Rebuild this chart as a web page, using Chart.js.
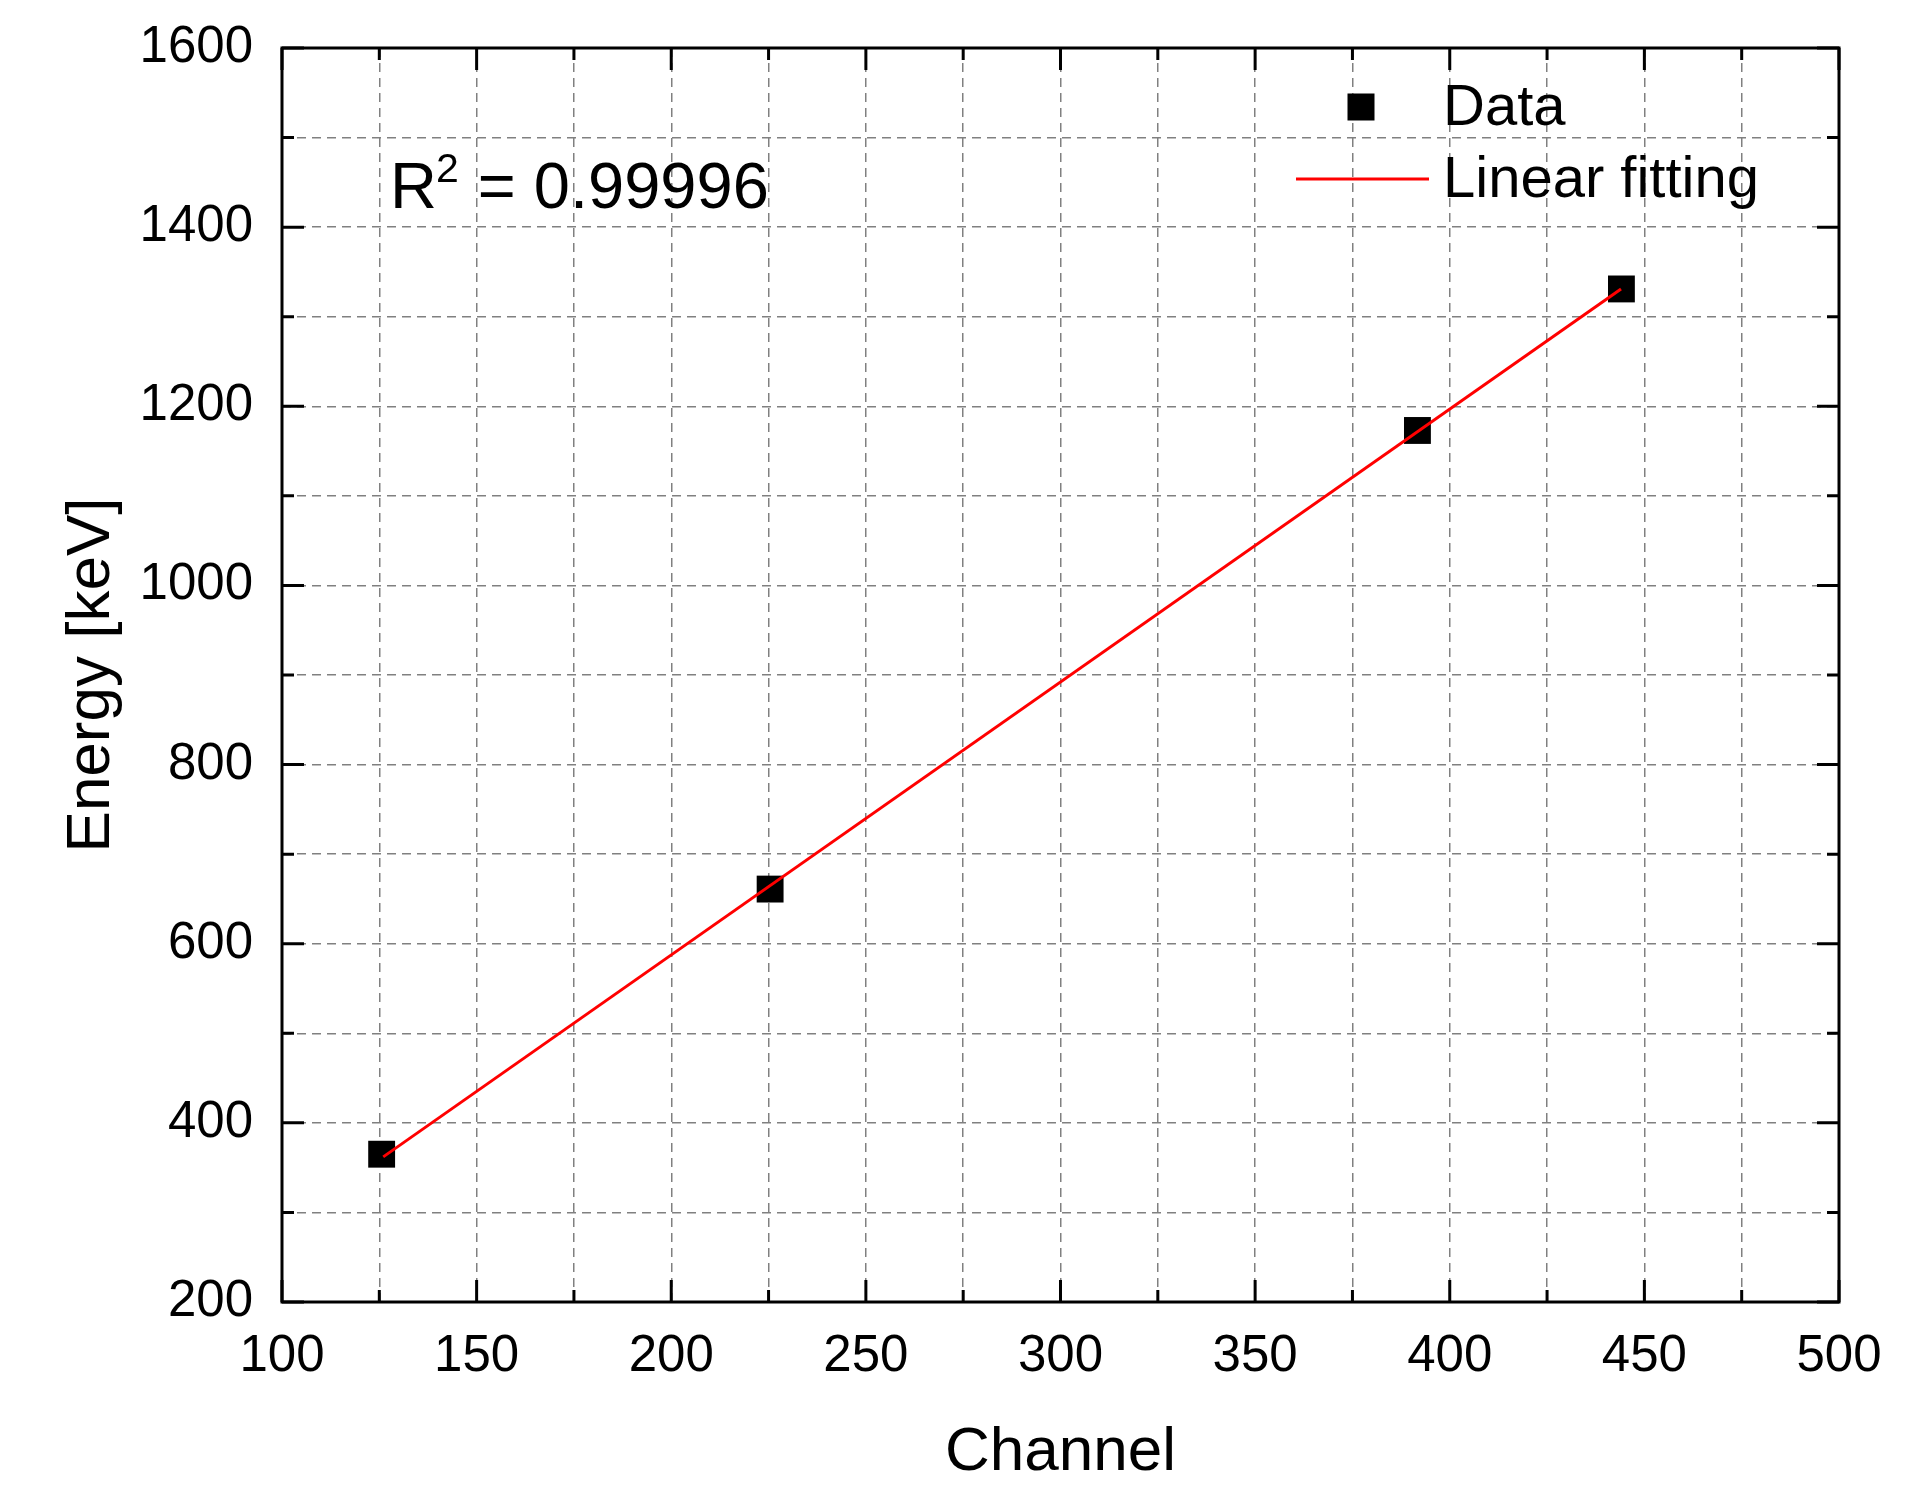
<!DOCTYPE html>
<html>
<head>
<meta charset="utf-8">
<script src="https://cdn.jsdelivr.net/npm/chart.js@4.4.1/dist/chart.umd.min.js"></script>
<style>
  html, body { margin: 0; padding: 0; background: #fff; }
  #calib { display: block; }
</style>
</head>
<body>
<canvas id="calib" width="1914" height="1485"></canvas>
<script>
// measured points (channel vs energy)
const channel = [125.6, 225.4, 391.7, 444.1];
const energy = [365, 661, 1173, 1331];

// fitted line end points
const fitChannel = [126, 444];
const fitEnergy = [362, 1331];

const xMin = 100, xMax = 500, xStep = 25, xLabelEvery = 50;
const yMin = 200, yMax = 1600, yStep = 100, yLabelEvery = 200;

const rSquared = '0.99996';

const FONT = '"Liberation Sans", Arial, sans-serif';

const dataPoints = channel.map((c, i) => ({ x: c, y: energy[i] }));
const fitPoints = fitChannel.map((c, i) => ({ x: c, y: fitEnergy[i] }));

function noPad(scale) {
  scale.paddingTop = 0;
  scale.paddingBottom = 0;
  scale.paddingLeft = 0;
  scale.paddingRight = 0;
}

// frame + inward ticks on all four sides
const frameTicks = {
  id: 'frameTicks',
  afterDraw(chart) {
    const c = chart.ctx;
    const a = chart.chartArea;
    const xs = chart.scales.x, ys = chart.scales.y;
    c.save();
    c.strokeStyle = '#000';
    c.lineWidth = 3;
    c.strokeRect(a.left, a.top, a.right - a.left, a.bottom - a.top);
    xs.ticks.forEach(t => {
      const px = xs.getPixelForValue(t.value);
      const len = t.value % xLabelEvery === 0 ? 22 : 12;
      c.beginPath();
      c.moveTo(px, a.bottom); c.lineTo(px, a.bottom - len);
      c.moveTo(px, a.top); c.lineTo(px, a.top + len);
      c.stroke();
    });
    ys.ticks.forEach(t => {
      const py = ys.getPixelForValue(t.value);
      const len = t.value % yLabelEvery === 0 ? 22 : 12;
      c.beginPath();
      c.moveTo(a.left, py); c.lineTo(a.left + len, py);
      c.moveTo(a.right, py); c.lineTo(a.right - len, py);
      c.stroke();
    });
    c.restore();
  }
};

// legend in the upper right + R^2 text
const notes = {
  id: 'notes',
  afterDraw(chart) {
    const c = chart.ctx;
    const ds = chart.data.datasets;
    c.save();
    c.fillStyle = '#000';
    c.textBaseline = 'middle';
    c.font = '58px ' + FONT;

    // Data
    c.fillStyle = ds[0].backgroundColor;
    c.fillRect(1361 - 13.5, 107 - 13.5, 27, 27);
    c.fillStyle = '#000';
    c.fillText(ds[0].label, 1443, 109);

    // Linear fitting
    c.strokeStyle = ds[1].borderColor;
    c.lineWidth = ds[1].borderWidth;
    c.beginPath();
    c.moveTo(1296, 179); c.lineTo(1429, 179);
    c.stroke();
    c.fillText(ds[1].label, 1443, 181);

    // R^2
    c.textBaseline = 'alphabetic';
    c.font = '65px ' + FONT;
    c.fillText('R', 390, 208);
    const rw = c.measureText('R').width;
    c.font = '41px ' + FONT;
    c.fillText('2', 390 + rw - 1, 182);
    const sw = c.measureText('2').width;
    c.font = '65px ' + FONT;
    c.fillText(' = ' + rSquared, 390 + rw + sw, 208);
    c.restore();
  }
};

new Chart(document.getElementById('calib'), {
  type: 'scatter',
  data: {
    datasets: [
      {
        label: 'Data',
        data: dataPoints,
        pointStyle: 'rect',
        pointRadius: 19,
        pointHoverRadius: 19,
        backgroundColor: '#000',
        borderColor: '#000',
        borderWidth: 0,
        showLine: false,
        order: 2
      },
      {
        label: 'Linear fitting',
        data: fitPoints,
        type: 'line',
        borderColor: '#ff0000',
        borderWidth: 3,
        pointRadius: 0,
        fill: false,
        order: 1
      }
    ]
  },
  options: {
    responsive: false,
    animation: false,
    layout: { padding: { top: 48, right: 75, left: 0, bottom: 0 } },
    plugins: {
      legend: { display: false },
      tooltip: { enabled: false }
    },
    scales: {
      x: {
        type: 'linear',
        min: xMin,
        max: xMax,
        afterFit(scale) { scale.height = 183; noPad(scale); },
        grid: { color: '#808080', lineWidth: 1.5, drawTicks: false },
        border: { display: false, dash: [9, 6] },
        ticks: {
          stepSize: xStep,
          autoSkip: false,
          maxRotation: 0,
          padding: 24,
          color: '#000',
          font: { family: FONT, size: 51 },
          callback: v => (v % xLabelEvery === 0 ? v : '')
        },
        title: {
          display: true,
          text: 'Channel',
          color: '#000',
          font: { family: FONT, size: 62 },
          padding: { top: 0, bottom: -5 }
        }
      },
      y: {
        type: 'linear',
        min: yMin,
        max: yMax,
        afterFit(scale) { scale.width = 282; noPad(scale); },
        grid: { color: '#808080', lineWidth: 1.5, drawTicks: false },
        border: { display: false, dash: [9, 6] },
        ticks: {
          stepSize: yStep,
          autoSkip: false,
          padding: 29,
          color: '#000',
          font: { family: FONT, size: 51 },
          callback: v => (v % yLabelEvery === 0 ? v : '')
        },
        title: {
          display: true,
          text: 'Energy [keV]',
          color: '#000',
          font: { family: FONT, size: 62 },
          padding: { top: 55, bottom: 0 }
        }
      }
    }
  },
  plugins: [frameTicks, notes]
});
</script>
</body>
</html>
